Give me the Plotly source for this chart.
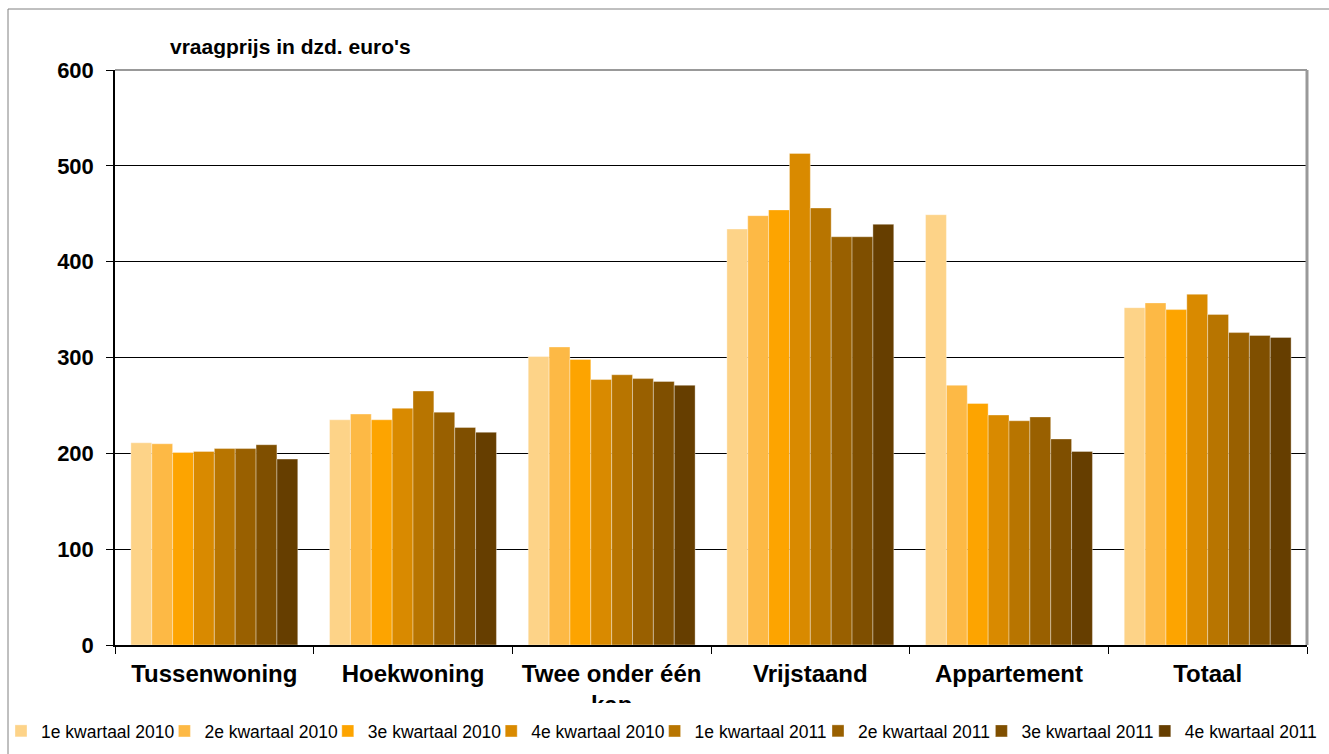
import plotly.graph_objects as go

categories = ["Tussenwoning", "Hoekwoning", "Twee onder één<br>kap", "Vrijstaand", "Appartement", "Totaal"]
series_names = ["1e kwartaal 2010", "2e kwartaal 2010", "3e kwartaal 2010", "4e kwartaal 2010",
                "1e kwartaal 2011", "2e kwartaal 2011", "3e kwartaal 2011", "4e kwartaal 2011"]

q1_2010 = [211, 235, 301, 434, 449, 352]
q2_2010 = [210, 241, 311, 448, 271, 357]
q3_2010 = [201, 235, 298, 454, 252, 350]
q4_2010 = [202, 247, 277, 513, 240, 366]
q1_2011 = [205, 265, 282, 456, 234, 345]
q2_2011 = [205, 243, 278, 426, 238, 326]
q3_2011 = [209, 227, 275, 426, 215, 323]
q4_2011 = [194, 222, 271, 439, 202, 321]

series_values = [q1_2010, q2_2010, q3_2010, q4_2010, q1_2011, q2_2011, q3_2011, q4_2011]
colors = ["#FDD388", "#FDB945", "#FDA400", "#D98A00", "#B87500", "#996000", "#7F4F00", "#663E00"]

y_ticks = [0, 100, 200, 300, 400, 500, 600]

W, H = 1329, 754
L, R, T, B = 115, 22, 70, 109
pw, ph = W - L - R, H - T - B

def px_x(x):
    return (x - L) / pw

def px_y(y):
    return (H - B - y) / ph

font_family = "Liberation Sans, Arial, sans-serif"
entry_step = 163.4

fig = go.Figure()
legend_layouts = {}
for i, (name, vals, col) in enumerate(zip(series_names, series_values, colors)):
    key = "legend" if i == 0 else f"legend{i + 1}"
    fig.add_trace(go.Bar(
        x=categories, y=vals, name=name,
        marker=dict(color=col, line=dict(color="rgba(255,255,255,0.35)", width=1)),
        legend=key,
    ))
    legend_layouts[key] = dict(
        orientation="h", x=px_x(1 + i * entry_step), xanchor="left",
        y=px_y(731), yanchor="middle",
        font=dict(size=17.5, family=font_family, color="black"),
        itemwidth=30, bgcolor="rgba(0,0,0,0)",
    )

fig.update_layout(
    width=W, height=H,
    margin=dict(l=L, r=R, t=T, b=B, pad=0, autoexpand=False),
    paper_bgcolor="white", plot_bgcolor="white",
    barmode="group", bargap=0.16, bargroupgap=0,
    font=dict(family=font_family, color="black"),
    showlegend=True,
    xaxis=dict(
        type="category", showgrid=False, showline=True, linecolor="black", linewidth=1.5,
        ticks="outside", tickson="boundaries", ticklen=7, tickcolor="black",
        tickfont=dict(size=24, family=font_family, color="black", weight="bold"),
        ticklabelstandoff=6, automargin=False,
    ),
    yaxis=dict(
        range=[0, 600], tickvals=y_ticks, showgrid=True, gridcolor="black", gridwidth=1,
        showline=True, linecolor="black", linewidth=1.5,
        ticks="outside", ticklen=7, tickcolor="black",
        tickfont=dict(size=22, family=font_family, color="black", weight="bold"),
        ticklabelstandoff=8, zeroline=False, automargin=False,
    ),
    **legend_layouts,
)

# axis title as annotation
fig.add_annotation(
    text="<b>vraagprijs in dzd. euro's</b>", xref="paper", yref="paper",
    x=px_x(168), y=px_y(46), xanchor="left", yanchor="middle", showarrow=False,
    font=dict(size=21, family=font_family, color="black"),
)

# plot area top and right border (grey)
fig.add_shape(type="line", xref="paper", yref="paper", x0=0, x1=1, y0=1, y1=1,
              line=dict(color="#999999", width=2), layer="above")
fig.add_shape(type="line", xref="paper", yref="paper", x0=1, x1=1, y0=0, y1=1,
              line=dict(color="#999999", width=3), layer="above")

# chart outer frame
fig.add_shape(type="rect", xref="paper", yref="paper",
              x0=px_x(8), x1=px_x(W + 10), y0=px_y(H + 10), y1=px_y(9),
              line=dict(color="#808080", width=1), fillcolor="rgba(0,0,0,0)", layer="above")

# clip wrapped second line of the category label like in the original
fig.add_shape(type="rect", xref="paper", yref="paper",
              x0=px_x(500), x1=px_x(720), y0=px_y(718), y1=px_y(703),
              line=dict(width=0), fillcolor="white", layer="above")

fig.write_html("out.html", config={"displayModeBar": False},
               post_script="document.body.style.margin='0';document.body.style.overflow='hidden';")
